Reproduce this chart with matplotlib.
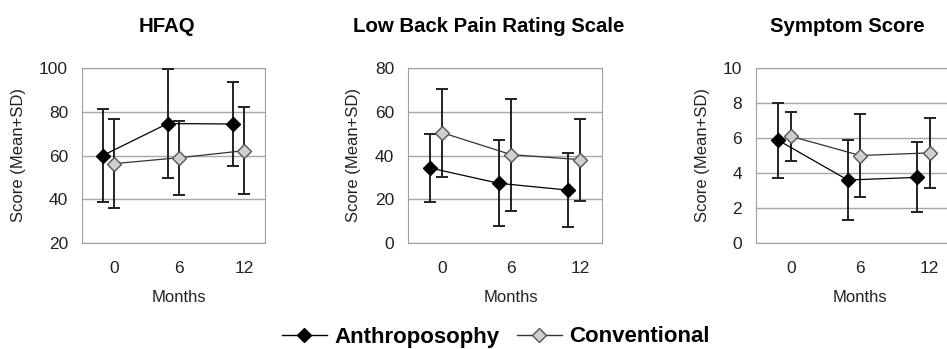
import matplotlib
matplotlib.use("Agg")
import matplotlib.pyplot as plt
from matplotlib.lines import Line2D

plt.rcParams['font.family'] = ['Liberation Sans', 'DejaVu Sans']

months = ["0", "6", "12"]
titles = ["HFAQ", "Low Back Pain Rating Scale", "Symptom Score"]

# mean and SD
anthro_mean = [[60, 74.6, 74.4], [34.3, 27.3, 24.2], [5.87, 3.6, 3.75]]
anthro_sd = [[21.3, 24.8, 19.2], [15.5, 19.7, 17.1], [2.15, 2.3, 2.0]]
conv_mean = [[56.3, 59.0, 62.2], [50.4, 40.4, 38.1], [6.1, 5.0, 5.15]]
conv_sd = [[20.5, 17.0, 20.0], [20.2, 25.6, 18.7], [1.4, 2.36, 2.0]]

ylims = [(20, 100), (0, 80), (0, 10)]
yticks = [[20, 40, 60, 80, 100], [0, 20, 40, 60, 80], [0, 2, 4, 6, 8, 10]]

W = 947.0
H = 349.0
fig = plt.figure(figsize=(9.47, 3.49), dpi=100)
boxes = [(82, 183), (408, 194), (756, 196)]
title_x = [167, 489, 847]
ylab_x = [26, 361, 710]   # right edge of the rotated label, px

for k in range(3):
    left, width = boxes[k]
    ax = fig.add_axes([left / W, (H - 243) / H, width / W, 175 / H])
    xs = list(range(len(months)))
    xa = [x - 0.18 for x in xs]
    ax.errorbar(xa, anthro_mean[k], yerr=anthro_sd[k], color='black', lw=0.9,
                marker='D', ms=7, mfc='black', mec='black', ecolor='#222222',
                elinewidth=1.4, capsize=4, capthick=1.4, zorder=3)
    ax.errorbar(xs, conv_mean[k], yerr=conv_sd[k], color='#333333', lw=0.9,
                marker='D', ms=7, mfc='#cfcfcf', mec='#555555', ecolor='#222222',
                elinewidth=1.4, capsize=4, capthick=1.4, zorder=3)
    ax.set_xlim(-0.5, 2.32)
    ax.set_ylim(*ylims[k])
    ax.set_yticks(yticks[k])
    ax.set_xticks(xs)
    ax.set_xticklabels(months)
    ax.tick_params(length=0, labelsize=12.5, colors='#222222')
    ax.tick_params(axis='y', pad=10)
    ax.tick_params(axis='x', pad=13)
    ax.grid(axis='y', color='#a8a8a8', lw=1)
    ax.set_axisbelow(True)
    for s in ax.spines.values():
        s.set_color('#a0a0a0')
    ax.set_ylabel("Score (Mean+SD)", fontsize=12, color='#222222')
    ax.yaxis.set_label_coords((ylab_x[k] - left) / width, 0.5)
    ax.set_xlabel("Months", fontsize=12, color='#222222')
    ax.xaxis.set_label_coords(1.5 / 2.82, -0.27)
    fig.text(title_x[k] / W, 1 - 26 / H, titles[k], ha='center', va='center',
             fontsize=14.7, fontweight='bold')

handles = [
    Line2D([], [], color='black', lw=1, marker='D', ms=7, mfc='black', mec='black'),
    Line2D([], [], color='#333333', lw=1, marker='D', ms=7, mfc='#cfcfcf', mec='#555555'),
]
fig.legend(handles, ["Anthroposophy", "Conventional"], loc='center',
           bbox_to_anchor=(496 / W, 1 - 337 / H), ncol=2, frameon=False,
           prop={'size': 16, 'weight': 'bold'}, handlelength=2.0,
           columnspacing=0.8, handletextpad=0.35, borderpad=0)

fig.savefig("out.png", dpi=100)
